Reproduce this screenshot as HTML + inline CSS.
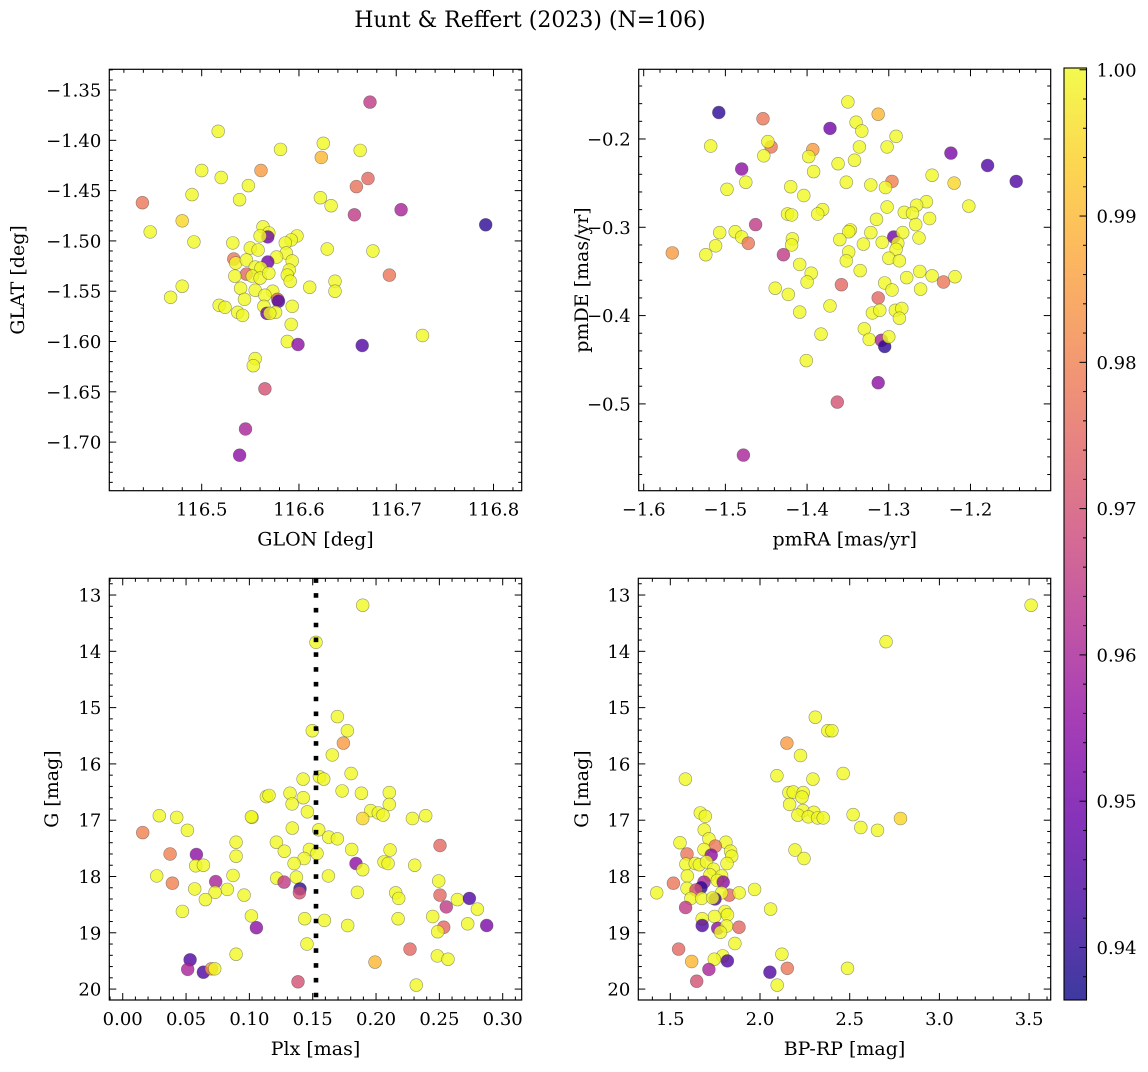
<!DOCTYPE html>
<html><head><meta charset="utf-8">
<style>
html,body{margin:0;padding:0;background:#fff;}
svg text{font-family:"DejaVu Serif","Liberation Serif",serif;fill:#000;}
</style></head>
<body>
<svg id="fig" width="1148" height="1067" viewBox="0 0 1148 1067" xmlns="http://www.w3.org/2000/svg">
<rect width="1148" height="1067" fill="#fff"/>
<text x="530" y="27" font-size="22" text-anchor="middle">Hunt &amp; Reffert (2023) (N=106)</text>
<defs>
<linearGradient id="plasma" x1="0" y1="1" x2="0" y2="0">
<stop offset="0" stop-color="#0d0887"/><stop offset="0.1" stop-color="#41049d"/><stop offset="0.2" stop-color="#6a00a8"/><stop offset="0.3" stop-color="#8f0da4"/><stop offset="0.4" stop-color="#b12a90"/><stop offset="0.5" stop-color="#cc4778"/><stop offset="0.6" stop-color="#e16462"/><stop offset="0.7" stop-color="#f2844b"/><stop offset="0.8" stop-color="#fca636"/><stop offset="0.9" stop-color="#fcce25"/><stop offset="1" stop-color="#f0f921"/>
</linearGradient>
</defs>
</svg>
<script>
// ---- Top-left: GLON vs GLAT ----
const tlGlon=[116.673,116.517,116.625,116.581,116.663,116.623,116.500,116.561,116.520,116.671,116.659,116.548,116.490,116.539,116.439,116.622,116.633,116.657,116.705,116.480,116.447,116.792,116.563,116.569,116.568,116.560,116.492,116.532,116.598,116.592,116.586,116.629,116.676,116.550,116.558,116.587,116.577,116.533,116.535,116.546,116.568,116.593,116.555,116.561,116.546,116.590,116.534,116.552,116.560,116.569,116.588,116.693,116.591,116.637,116.480,116.611,116.540,116.555,116.637,116.573,116.468,116.544,116.565,116.578,116.579,116.593,116.518,116.524,116.564,116.567,116.537,116.542,116.576,116.570,116.592,116.727,116.588,116.599,116.665,116.555,116.553,116.565,116.545,116.539];
const tlGlat=[-1.362,-1.391,-1.403,-1.409,-1.410,-1.417,-1.430,-1.430,-1.437,-1.438,-1.446,-1.445,-1.454,-1.459,-1.462,-1.457,-1.465,-1.474,-1.469,-1.480,-1.491,-1.484,-1.486,-1.492,-1.496,-1.495,-1.501,-1.502,-1.495,-1.499,-1.502,-1.508,-1.510,-1.507,-1.509,-1.512,-1.516,-1.518,-1.522,-1.519,-1.521,-1.520,-1.526,-1.527,-1.533,-1.529,-1.535,-1.535,-1.537,-1.532,-1.534,-1.534,-1.540,-1.540,-1.545,-1.546,-1.547,-1.549,-1.550,-1.550,-1.556,-1.558,-1.554,-1.558,-1.560,-1.565,-1.564,-1.566,-1.565,-1.572,-1.571,-1.574,-1.571,-1.572,-1.583,-1.594,-1.600,-1.603,-1.604,-1.617,-1.624,-1.647,-1.687,-1.713];
const tlProb=[0.965,1,1,1,1,0.99,1,0.985,1,0.975,0.977,1,1,1,0.978,1,1,0.965,0.96,0.995,1,0.94,1,1,0.95,1,1,1,1,1,1,1,1,1,1,1,1,0.978,1,1,0.95,1,1,1,0.975,1,1,1,1,1,1,0.978,1,1,1,1,1,1,1,1,1,1,1,0.975,0.945,1,1,1,1,0.95,1,1,1,1,1,1,1,0.955,0.945,1,1,0.97,0.96,0.955];
const tlXTicks=[116.5,116.6,116.7,116.8];
const tlXTickLabels=["116.5","116.6","116.7","116.8"];
const tlYTicks=[-1.35,-1.40,-1.45,-1.50,-1.55,-1.60,-1.65,-1.70];
const tlYTickLabels=["−1.35","−1.40","−1.45","−1.50","−1.55","−1.60","−1.65","−1.70"];

// ---- Top-right: pmRA vs pmDE ----
const trPmra=[-1.350,-1.508,-1.454,-1.313,-1.372,-1.340,-1.333,-1.291,-1.518,-1.444,-1.448,-1.393,-1.398,-1.336,-1.302,-1.224,-1.179,-1.144,-1.453,-1.480,-1.362,-1.342,-1.392,-1.475,-1.247,-1.296,-1.220,-1.352,-1.322,-1.304,-1.498,-1.420,-1.404,-1.254,-1.266,-1.202,-1.302,-1.381,-1.387,-1.424,-1.419,-1.281,-1.271,-1.315,-1.250,-1.267,-1.463,-1.507,-1.488,-1.480,-1.472,-1.418,-1.419,-1.347,-1.349,-1.322,-1.294,-1.283,-1.360,-1.263,-1.331,-1.308,-1.289,-1.291,-1.512,-1.524,-1.565,-1.429,-1.349,-1.352,-1.300,-1.287,-1.409,-1.395,-1.400,-1.335,-1.262,-1.278,-1.247,-1.233,-1.219,-1.358,-1.305,-1.296,-1.261,-1.439,-1.423,-1.313,-1.372,-1.320,-1.311,-1.292,-1.284,-1.287,-1.409,-1.330,-1.324,-1.383,-1.309,-1.305,-1.300,-1.401,-1.313,-1.363,-1.478];
const trPmde=[-0.158,-0.170,-0.177,-0.172,-0.188,-0.181,-0.191,-0.197,-0.208,-0.209,-0.203,-0.212,-0.220,-0.209,-0.209,-0.216,-0.230,-0.248,-0.219,-0.234,-0.228,-0.224,-0.237,-0.249,-0.241,-0.248,-0.250,-0.249,-0.252,-0.255,-0.257,-0.254,-0.264,-0.271,-0.275,-0.276,-0.277,-0.280,-0.285,-0.285,-0.286,-0.283,-0.284,-0.291,-0.290,-0.297,-0.297,-0.306,-0.305,-0.311,-0.318,-0.313,-0.320,-0.303,-0.305,-0.306,-0.311,-0.306,-0.314,-0.312,-0.319,-0.317,-0.318,-0.325,-0.321,-0.331,-0.329,-0.331,-0.328,-0.338,-0.335,-0.338,-0.342,-0.352,-0.362,-0.349,-0.350,-0.357,-0.355,-0.362,-0.356,-0.365,-0.363,-0.371,-0.370,-0.369,-0.376,-0.380,-0.389,-0.397,-0.394,-0.394,-0.392,-0.403,-0.396,-0.415,-0.427,-0.421,-0.428,-0.435,-0.424,-0.451,-0.476,-0.498,-0.558];
const trProb=[1,0.94,0.978,0.99,0.95,1,1,1,1,0.978,1,0.985,1,1,1,0.952,0.945,0.945,1,0.955,1,1,1,1,1,0.98,0.995,1,1,1,1,1,1,1,1,1,1,1,1,1,1,1,1,1,1,1,0.965,1,1,1,0.978,1,1,1,1,1,0.95,1,1,1,1,1,1,1,1,1,0.985,0.965,1,1,1,1,1,1,1,1,1,1,1,0.978,1,0.975,1,1,1,1,1,0.975,1,1,1,1,1,1,1,1,1,1,0.96,0.94,1,1,0.955,0.97,0.96];
const trXTicks=[-1.6,-1.5,-1.4,-1.3,-1.2];
const trXTickLabels=["−1.6","−1.5","−1.4","−1.3","−1.2"];
const trYTicks=[-0.2,-0.3,-0.4,-0.5];
const trYTickLabels=["−0.2","−0.3","−0.4","−0.5"];

// ---- Bottom-left: Plx vs G ----
const blPlx=[0.1895,0.1526,0.1695,0.1774,0.1497,0.1742,0.1655,0.1803,0.1424,0.1553,0.1587,0.1732,0.1884,0.2105,0.2105,0.1321,0.1134,0.1155,0.1426,0.1337,0.1458,0.1958,0.2018,0.2055,0.1895,0.2287,0.2392,0.0289,0.0426,0.1021,0.1016,0.0511,0.0158,0.1339,0.1547,0.1626,0.1695,0.0895,0.1213,0.2505,0.0374,0.0582,0.0895,0.1276,0.1474,0.1534,0.1808,0.2111,0.1432,0.1353,0.1842,0.2063,0.2095,0.2305,0.0576,0.0637,0.1895,0.0268,0.0871,0.1216,0.1371,0.1624,0.0392,0.0734,0.1274,0.2495,0.0568,0.0826,0.0729,0.1400,0.1395,0.1853,0.2155,0.2179,0.2505,0.0653,0.0958,0.2642,0.2737,0.2555,0.2800,0.0471,0.1016,0.1437,0.1592,0.2174,0.2447,0.1055,0.1776,0.2724,0.2874,0.2534,0.2487,0.1455,0.2268,0.0895,0.2484,0.2568,0.0532,0.1992,0.0513,0.0637,0.0700,0.0726,0.1384,0.2318];
const blG=[13.18,13.84,15.16,15.41,15.41,15.63,15.84,16.17,16.27,16.23,16.27,16.48,16.52,16.51,16.72,16.52,16.58,16.56,16.60,16.71,16.85,16.83,16.87,16.91,16.97,16.97,16.92,16.92,16.95,16.95,16.94,17.18,17.22,17.14,17.17,17.30,17.33,17.39,17.39,17.45,17.60,17.61,17.64,17.55,17.52,17.59,17.52,17.53,17.68,17.77,17.77,17.74,17.77,17.80,17.81,17.80,17.88,17.99,17.98,18.03,18.01,17.99,18.12,18.09,18.10,18.08,18.22,18.23,18.28,18.22,18.29,18.28,18.29,18.39,18.33,18.41,18.33,18.41,18.39,18.54,18.58,18.62,18.70,18.75,18.78,18.75,18.71,18.91,18.87,18.84,18.87,18.90,18.98,19.20,19.29,19.38,19.41,19.47,19.48,19.52,19.65,19.70,19.64,19.64,19.87,19.93];
const blProb=[1,1,1,1,1,0.985,1,1,1,1,1,1,1,1,1,1,1,1,1,1,1,1,1,1,0.995,1,1,1,1,1,1,1,0.98,1,1,1,1,1,1,0.975,0.98,0.955,1,1,1,1,1,1,1,1,0.955,1,1,1,1,1,1,1,1,1,1,1,0.98,0.96,0.965,1,1,1,1,0.94,0.97,1,1,1,0.975,1,1,1,0.945,0.965,1,1,1,1,1,1,1,0.955,1,1,0.952,0.975,1,1,0.975,1,1,1,0.945,0.99,0.96,0.945,0.985,1,0.97,1];
const blRefPlx=[0.1526];
const blXTicks=[0.00,0.05,0.10,0.15,0.20,0.25,0.30];
const blXTickLabels=["0.00","0.05","0.10","0.15","0.20","0.25","0.30"];
const gYTicks=[13,14,15,16,17,18,19,20];
const gYTickLabels=["13","14","15","16","17","18","19","20"];

// ---- Bottom-right: BP-RP vs G ----
const brColor=[3.511,2.703,2.308,2.378,2.401,2.150,2.226,2.094,2.295,2.464,1.584,2.161,2.185,2.241,2.234,2.165,2.239,2.300,2.211,2.269,2.321,2.352,2.519,2.562,2.655,2.783,1.667,1.695,1.689,1.715,1.554,1.810,1.751,1.688,1.593,1.728,1.836,1.842,2.195,2.245,1.587,1.639,1.662,1.702,1.816,1.741,1.595,1.721,1.786,1.762,1.795,1.688,1.517,1.671,1.593,1.643,1.829,1.424,1.884,1.970,1.786,1.615,1.675,1.749,1.736,1.585,2.059,1.805,1.747,1.819,1.678,1.678,1.764,1.814,1.883,1.780,1.860,1.546,2.122,1.792,1.818,1.745,1.619,1.715,2.152,2.488,2.055,1.647,2.096];
const brG=[13.18,13.83,15.17,15.41,15.41,15.63,15.85,16.21,16.27,16.17,16.27,16.51,16.50,16.51,16.59,16.72,16.83,16.86,16.91,16.94,16.96,16.96,16.90,17.13,17.18,16.97,16.87,16.93,17.17,17.33,17.40,17.39,17.46,17.52,17.60,17.62,17.55,17.64,17.53,17.68,17.78,17.77,17.79,17.74,17.77,17.87,17.99,17.97,17.99,18.07,18.10,18.10,18.12,18.20,18.21,18.24,18.33,18.29,18.29,18.23,18.29,18.39,18.39,18.40,18.38,18.55,18.58,18.62,18.71,18.68,18.75,18.87,18.92,18.88,18.90,18.99,19.19,19.29,19.38,19.41,19.50,19.47,19.51,19.65,19.63,19.63,19.70,19.86,19.93];
const brProb=[1,1,1,1,1,0.985,1,1,1,1,1,1,1,1,1,1,1,1,1,1,1,1,1,1,1,0.995,1,1,1,1,1,1,0.978,1,0.978,0.955,1,1,1,1,1,1,1,1,1,1,1,1,1,1,0.955,0.96,0.978,0.94,1,0.97,0.975,1,1,1,1,1,1,0.945,1,0.965,1,1,1,1,1,0.945,0.955,1,0.975,1,1,0.975,1,1,0.945,1,0.99,0.96,0.978,1,0.945,0.97,1];
const brXTicks=[1.5,2.0,2.5,3.0,3.5];
const brXTickLabels=["1.5","2.0","2.5","3.0","3.5"];

// ---- Colorbar ----
const cbTicks=[0.94,0.95,0.96,0.97,0.98,0.99,1.00];
const cbTickLabels=["0.94","0.95","0.96","0.97","0.98","0.99","1.00"];
const VMIN=0.93641, VMAX=1.00012;

const NS="http://www.w3.org/2000/svg";
const svg=document.getElementById('fig');
function mk(tag,attrs,parent){const e=document.createElementNS(NS,tag);for(const k in attrs)e.setAttribute(k,attrs[k]);(parent||svg).appendChild(e);return e;}

const stops=[[13,8,135],[65,4,157],[106,0,168],[143,13,164],[177,42,144],[204,71,120],[225,100,98],[242,132,75],[252,166,54],[252,206,37],[240,249,33]];
function plasma(t){t=Math.max(0,Math.min(1,t));const s=t*10,i=Math.min(9,Math.floor(s)),f=s-i;const a=stops[i],b=stops[i+1];return 'rgb('+a.map((v,k)=>Math.round(v+(b[k]-v)*f)).join(',')+')';}

function panel(name,box,xlim,ylim,xs,ys,ps,xt,xtl,xminor,yt,ytl,yminor,xlabel,ylabel,ylabelX){
  const g=mk('g',{});
  
  
  const [L,T,R,B]=box;
  const sx=v=>L+(v-xlim[0])/(xlim[1]-xlim[0])*(R-L);
  const sy=v=>T+(v-ylim[1])/(ylim[0]-ylim[1])*(B-T);
  const clipId='clip-'+name;
  const cp=mk('clipPath',{id:clipId},g);mk('rect',{x:L,y:T,width:R-L,height:B-T},cp);
  const pts=mk('g',{'clip-path':'url(#'+clipId+')'},g);
  
  
  for(let i=0;i<xs.length;i++){
    const c=mk('circle',{cx:sx(xs[i]).toFixed(1),cy:sy(ys[i]).toFixed(1),r:6.4,fill:plasma((ps[i]-VMIN)/(VMAX-VMIN)),'fill-opacity':0.8,stroke:'#444','stroke-opacity':0.55,'stroke-width':0.6},pts);
    
    
  }
  const tg=mk('g',{stroke:'#000','stroke-width':1},g);
  const xstart=Math.ceil(Math.min(...xlim)/xminor-1e-6),xend=Math.floor(Math.max(...xlim)/xminor+1e-6);
  for(let k=xstart;k<=xend;k++){const v=k*xminor;const x=sx(v);const maj=xt.some(t=>Math.abs(t-v)<xminor/10);const len=maj?7:3.5;
    mk('line',{x1:x,y1:B,x2:x,y2:B-len},tg);mk('line',{x1:x,y1:T,x2:x,y2:T+len},tg);}
  const ystart=Math.ceil(Math.min(...ylim)/yminor-1e-6),yend=Math.floor(Math.max(...ylim)/yminor+1e-6);
  for(let k=ystart;k<=yend;k++){const v=k*yminor;const y=sy(v);const maj=yt.some(t=>Math.abs(t-v)<yminor/10);const len=maj?7:3.5;
    mk('line',{x1:L,y1:y,x2:L+len,y2:y},tg);mk('line',{x1:R,y1:y,x2:R-len,y2:y},tg);}
  mk('rect',{x:L,y:T,width:R-L,height:B-T,fill:'none',stroke:'#000','stroke-width':1.2},g);
  xt.forEach((v,i)=>{const t=mk('text',{x:sx(v),y:B+25,'font-size':18,'text-anchor':'middle'},g);t.textContent=xtl[i];
    
    });
  yt.forEach((v,i)=>{const t=mk('text',{x:L-8,y:sy(v)+6.5,'font-size':18,'text-anchor':'end'},g);t.textContent=ytl[i];
    
    });
  const xl=mk('text',{x:(L+R)/2,y:B+55,'font-size':19,'text-anchor':'middle'},g);xl.textContent=xlabel;
  
  
  const yl=mk('text',{x:0,y:0,'font-size':19,'text-anchor':'middle',transform:'translate('+ylabelX+','+((T+B)/2)+') rotate(-90)'},g);yl.textContent=ylabel;
  
  
  return {sx,sy,g,T,B,clipId};
}

panel('glon-glat',[109.3,69.3,521.7,490.7],[116.405,116.829],[-1.7483,-1.3294],tlGlon,tlGlat,tlProb,tlXTicks,tlXTickLabels,0.02,tlYTicks,tlYTickLabels,0.01,'GLON [deg]','GLAT [deg]',24);
panel('pm',[638.7,69.3,1050.7,490.7],[-1.6061,-1.1018],[-0.5983,-0.1211],trPmra,trPmde,trProb,trXTicks,trXTickLabels,0.02,trYTicks,trYTickLabels,0.02,'pmRA [mas/yr]','pmDE [mas/yr]',588);
const bl=panel('plx-g',[109.3,578.3,521.7,1000],[-0.0106,0.315],[20.194,12.703],blPlx,blG,blProb,blXTicks,blXTickLabels,0.01,gYTicks,gYTickLabels,0.2,'Plx [mas]','G [mag]',58);
blRefPlx.forEach(v=>{
  const ln=mk('line',{x1:bl.sx(v),y1:bl.T,x2:bl.sx(v),y2:bl.B,stroke:'#000','stroke-width':4.6,'stroke-dasharray':'4.6 10.2','clip-path':'url(#'+bl.clipId+')'},bl.g);
  
  
});
panel('cmd',[638.3,578.3,1050.7,1000],[1.3216,3.6204],[20.194,12.703],brColor,brG,brProb,brXTicks,brXTickLabels,0.1,gYTicks,gYTickLabels,0.2,'BP-RP [mag]','G [mag]',588);

(function(){
  const g=mk('g',{});
  
  
  const L=1064,R=1086.5,T=68,B=1000;
  mk('rect',{x:L,y:T,width:R-L,height:B-T,fill:'url(#plasma)','fill-opacity':0.8},g);
  mk('rect',{x:L,y:T,width:R-L,height:B-T,fill:'none',stroke:'#000','stroke-width':1.1},g);
  const sy=v=>T+(VMAX-v)/(VMAX-VMIN)*(B-T);
  for(let k=Math.ceil(VMIN/0.002);k<=Math.floor(VMAX/0.002);k++){const v=k*0.002;const maj=cbTicks.some(t=>Math.abs(t-v)<0.0002);
    mk('line',{x1:R,y1:sy(v),x2:R-(maj?7:3.5),y2:sy(v),stroke:'#000','stroke-width':1},g);}
  cbTicks.forEach((v,i)=>{const t=mk('text',{x:R+10,y:sy(v)+6.5,'font-size':18},g);t.textContent=cbTickLabels[i];
    
    });
})();
</script>
</body></html>
